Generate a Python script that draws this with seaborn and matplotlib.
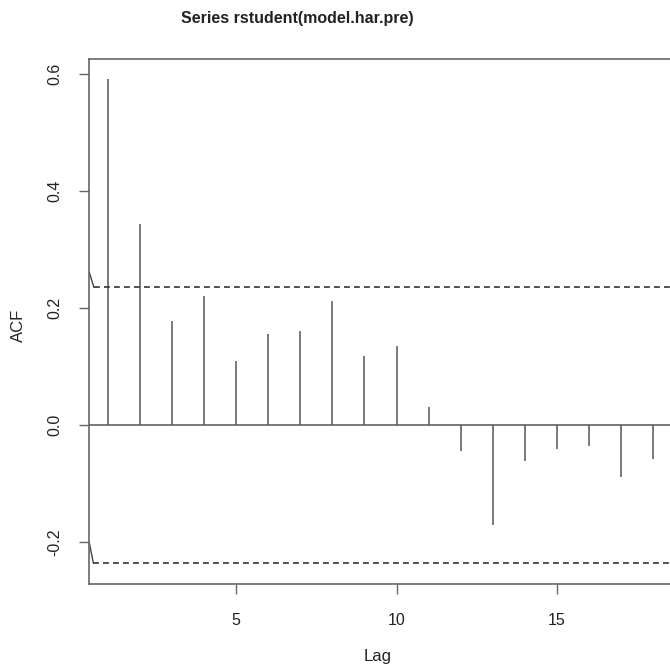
import matplotlib
matplotlib.use("Agg")
import matplotlib.pyplot as plt
import seaborn as sns
import pandas as pd

# ACF of the studentized residuals
lags = list(range(1, 19))
acf_vals = [0.592, 0.344, 0.177, 0.221, 0.110, 0.156, 0.160, 0.211, 0.117,
            0.134, 0.030, -0.045, -0.172, -0.062, -0.042, -0.036, -0.090, -0.058]

# confidence bounds (with the little hook at the left end)
upper_lag = [0.42, 0.57, 18.6]
upper_val = [0.262, 0.235, 0.235]
lower_lag = [0.42, 0.55, 18.6]
lower_val = [-0.200, -0.236, -0.236]

yticks = [-0.2, 0.0, 0.2, 0.4, 0.6]
xticks = [5, 10, 15]

sns.set_style("ticks")
plt.rcParams["font.family"] = ["Liberation Sans", "DejaVu Sans"]

fig = plt.figure(figsize=(6.7, 6.71), dpi=100)
ax = fig.add_axes([0.133, 0.130, 0.867, 0.782])

line_col = "#555555"
ax.vlines(lags, 0, acf_vals, color=line_col, lw=1.1)
sns.lineplot(x=[0.42, 18.6], y=[0, 0], ax=ax, color=line_col, lw=1.1)

sns.lineplot(x=upper_lag[:2], y=upper_val[:2], ax=ax, color="#444444", lw=1.0)
sns.lineplot(x=upper_lag[1:], y=upper_val[1:], ax=ax, color="#333333", lw=1.2,
             linestyle=(0, (3.5, 2.5)))
sns.lineplot(x=lower_lag[:2], y=lower_val[:2], ax=ax, color="#444444", lw=1.0)
sns.lineplot(x=lower_lag[1:], y=lower_val[1:], ax=ax, color="#333333", lw=1.2,
             linestyle=(0, (3.5, 2.5)))

ax.set_xlim(0.42, 18.52)
ax.set_ylim(-0.2718, 0.6256)
ax.set_xticks(xticks)
ax.set_yticks(yticks)
ax.set_yticklabels([f"{v:.1f}" for v in yticks], rotation=90, va="center")
ax.tick_params(axis="both", colors="#666666", labelcolor="#222222",
               labelsize=11.5, length=7, width=1.0, direction="out")
ax.tick_params(axis="x", pad=14)
ax.tick_params(axis="y", pad=12)

for side in ["left", "top", "bottom"]:
    ax.spines[side].set_color("#666666")
    ax.spines[side].set_linewidth(1.2)
ax.spines["right"].set_visible(False)

ax.set_xlabel("")
ax.set_ylabel("")
fig.text(378 / 670, 1 - 657 / 671, "Lag", ha="center", va="center",
         fontsize=12, color="#222222")
fig.text(18 / 670, 1 - 325 / 671, "ACF", ha="center", va="center",
         rotation=90, fontsize=12, color="#222222")
fig.text(297 / 670, 1 - 18 / 671, "Series rstudent(model.har.pre)",
         ha="center", va="center", fontsize=11.5, fontweight="bold",
         color="#222222")

fig.savefig("out.png", dpi=100)
